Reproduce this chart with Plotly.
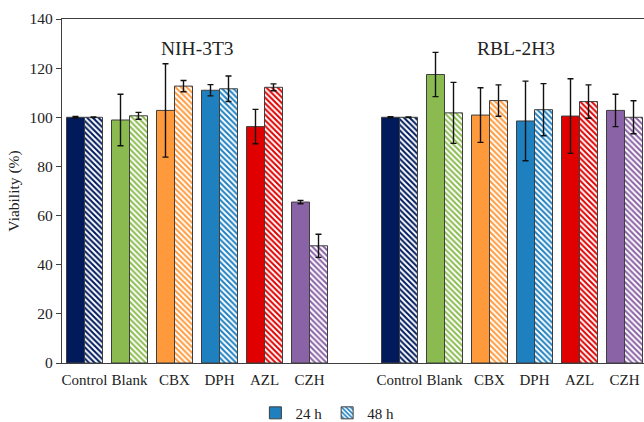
import plotly.graph_objects as go

# Treatments and cell lines
treatments = ["Control", "Blank", "CBX", "DPH", "AZL", "CZH"]
cell_lines = ["NIH-3T3", "RBL-2H3"]

# Viability (%) and standard deviations, NIH-3T3
nih_24h = [100.0, 98.9, 102.8, 111.0, 96.2, 65.5]
nih_24h_sd = [0.3, 10.5, 19.0, 2.3, 7.0, 0.7]
nih_48h = [100.0, 100.6, 112.7, 111.6, 112.2, 47.7]
nih_48h_sd = [0.1, 1.4, 2.3, 5.2, 1.4, 4.7]

# Viability (%) and standard deviations, RBL-2H3
rbl_24h = [100.0, 117.4, 100.9, 98.5, 100.5, 102.8]
rbl_24h_sd = [0.2, 9.0, 11.1, 16.2, 15.2, 6.6]
rbl_48h = [100.0, 101.8, 106.8, 103.1, 106.4, 100.0]
rbl_48h_sd = [0.1, 12.4, 6.4, 10.6, 6.8, 6.7]

# Bar colours per treatment
colors = ["#001a5c", "#8bbb50", "#ff9a3c", "#1f80c0", "#e00000", "#8a62a6"]
legend_color = "#1f80c0"

n = len(treatments)
# one empty slot separates the two cell lines
x_pos = list(range(n)) + [n + 1 + i for i in range(n)]
labels = treatments + treatments
vals_24 = nih_24h + rbl_24h
sd_24 = nih_24h_sd + rbl_24h_sd
vals_48 = nih_48h + rbl_48h
sd_48 = nih_48h_sd + rbl_48h_sd
bar_colors = colors + colors

font_family = "Liberation Serif, Times New Roman, serif"
text_color = "#222222"
outline = "#3f3f3f"
err_style = dict(type="data", thickness=1.4, width=3, color="#111111")

fig = go.Figure()

fig.add_trace(go.Bar(
    x=x_pos, y=vals_24, width=0.4, offset=-0.4,
    marker=dict(color=bar_colors, line=dict(color=outline, width=1)),
    error_y=dict(array=sd_24, **err_style),
    showlegend=False, name="24 h",
))
fig.add_trace(go.Bar(
    x=x_pos, y=vals_48, width=0.4, offset=0.0,
    marker=dict(
        color="white",
        line=dict(color=outline, width=1),
        pattern=dict(shape="\\", fgcolor=bar_colors, bgcolor="white",
                     size=4, solidity=0.5, fillmode="replace"),
    ),
    error_y=dict(array=sd_48, **err_style),
    showlegend=False, name="48 h",
))

# legend entries
fig.add_trace(go.Bar(
    x=[None], y=[None], name="24 h",
    marker=dict(color=legend_color, line=dict(color=outline, width=1)),
))
fig.add_trace(go.Bar(
    x=[None], y=[None], name="48 h",
    marker=dict(color="white", line=dict(color=outline, width=1),
                pattern=dict(shape="\\", fgcolor=legend_color, bgcolor="white",
                             size=4, solidity=0.5, fillmode="replace")),
))

# cell line titles
for i, name in enumerate(cell_lines):
    center = (n - 1) / 2 + i * (n + 1) + (0.08 if i else 0.0)
    fig.add_annotation(
        x=center, y=128, xref="x", yref="y", text=name, showarrow=False,
        font=dict(family=font_family, size=19.5, color=text_color),
    )

fig.update_layout(
    width=644, height=422,
    margin=dict(l=62, r=0, t=19, b=59, autoexpand=False),
    paper_bgcolor="white", plot_bgcolor="white",
    barmode="overlay",
    font=dict(family=font_family, size=15, color=text_color),
    legend=dict(
        orientation="h", x=0.456, y=-0.1456, xanchor="center", yanchor="middle",
        font=dict(family=font_family, size=15, color=text_color),
        itemwidth=30, tracegroupgap=0, borderwidth=0,
    ),
    xaxis=dict(
        range=[-0.5, 2 * n + 0.433],
        tickmode="array", tickvals=x_pos, ticktext=labels,
        showline=True, linecolor=outline, linewidth=1.3, mirror=True,
        ticks="", ticklabelstandoff=3, showgrid=False, zeroline=False,
        tickfont=dict(family=font_family, size=15, color=text_color),
    ),
    yaxis=dict(
        range=[0, 140], tickmode="array", tickvals=list(range(0, 141, 20)),
        showline=True, linecolor=outline, linewidth=1.3, mirror=True,
        ticks="outside", ticklen=5, tickcolor=outline, tickwidth=1.2,
        showgrid=False, zeroline=False,
        title=dict(text="Viability (%)", standoff=6,
                   font=dict(family=font_family, size=15.5, color=text_color)),
        tickfont=dict(family=font_family, size=15.5, color=text_color),
    ),
)

fig.write_html("out.html")
